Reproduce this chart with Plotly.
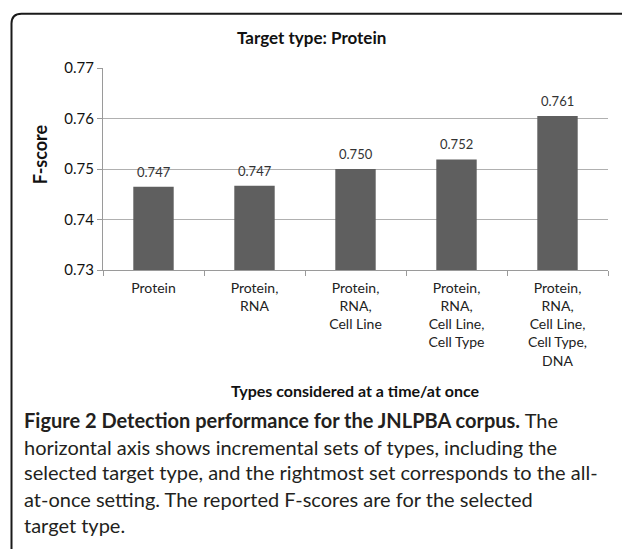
import plotly.graph_objects as go

# ---- data ----
categories = [
    "Protein",
    "Protein,<br>RNA",
    "Protein,<br>RNA,<br>Cell Line",
    "Protein,<br>RNA,<br>Cell Line,<br>Cell Type",
    "Protein,<br>RNA,<br>Cell Line,<br>Cell Type,<br>DNA",
]
fscores = [0.7465, 0.7467, 0.7500, 0.7519, 0.7605]
value_labels = ["0.747", "0.747", "0.750", "0.752", "0.761"]
y_ticks = [0.73, 0.74, 0.75, 0.76, 0.77]
y_tick_labels = ["0.73", "0.74", "0.75", "0.76", "0.77"]

chart_title = "Target type: Protein"
y_title = "F-score"
x_title = "Types considered at a time/at once"
caption_lines = [
    "<b>Figure 2 Detection performance for the JNLPBA corpus.</b> The",
    "horizontal axis shows incremental sets of types, including the",
    "selected target type, and the rightmost set corresponds to the all-",
    "at-once setting. The reported F-scores are for the selected",
    "target type.",
]

# ---- layout geometry (pixels) ----
W, H = 622, 549
L, R, T, B = 103, 608, 67.5, 270  # plot area edges


def px(x):
    return (x - L) / (R - L)


def py(y):
    return (B - y) / (B - T)


CHART_FONT = "Lato, 'Open Sans', sans-serif"
CAP_FONT = "Lato, 'Open Sans', sans-serif"

fig = go.Figure()
fig.add_trace(go.Bar(
    x=categories,
    y=fscores,
    marker=dict(color="#5f5f5f", line=dict(width=0)),
    hoverinfo="x+y",
    showlegend=False,
))

annotations = []
for c, v, lab in zip(categories, fscores, value_labels):
    annotations.append(dict(
        x=c, y=v, xref="x", yref="y", text=lab, showarrow=False,
        yanchor="bottom", yshift=5,
        font=dict(family=CHART_FONT, size=13, color="#333333"),
    ))

annotations.append(dict(
    x=px(311), y=py(37), xref="paper", yref="paper", text="<b>%s</b>" % chart_title,
    showarrow=False, xanchor="center", yanchor="middle",
    font=dict(family=CHART_FONT, size=17, color="#111111"),
))
annotations.append(dict(
    x=px(40), y=py(154), xref="paper", yref="paper", text="<b>%s</b>" % y_title,
    showarrow=False, xanchor="center", yanchor="middle", textangle=-90,
    font=dict(family=CHART_FONT, size=18, color="#111111"),
))
annotations.append(dict(
    x=0.5, y=py(391), xref="paper", yref="paper", text="<b>%s</b>" % x_title,
    showarrow=False, xanchor="center", yanchor="middle",
    font=dict(family=CHART_FONT, size=16, color="#111111"),
))

cap_y = [420, 447, 473, 500, 526]
for line, yy in zip(caption_lines, cap_y):
    annotations.append(dict(
        x=px(22), y=py(yy), xref="paper", yref="paper", text=line,
        showarrow=False, xanchor="left", yanchor="middle", align="left",
        font=dict(family=CAP_FONT, size=20, color="#231f20"),
    ))

# rounded frame (top-left corner), running off right and bottom edges
x0, y0, rad = 11.5, 13, 10
frame_path = (
    f"M {px(x0)},{py(H + 20)} L {px(x0)},{py(y0 + rad)} "
    f"Q {px(x0)},{py(y0)} {px(x0 + rad)},{py(y0)} L {px(W + 20)},{py(y0)}"
)

fig.update_layout(
    width=W, height=H,
    margin=dict(l=L, r=W - R, t=T, b=H - B),
    paper_bgcolor="white", plot_bgcolor="white",
    bargap=0.6,
    annotations=annotations,
    shapes=[dict(type="path", path=frame_path, xref="paper", yref="paper",
                 line=dict(color="#1a1a1a", width=2))],
    xaxis=dict(
        type="category", showline=True, linecolor="#9a9a9a", linewidth=1,
        ticks="outside", tickson="boundaries", ticklen=5, tickcolor="#9a9a9a",
        ticklabelstandoff=5,
        showgrid=False, tickfont=dict(family=CHART_FONT, size=14, color="#222222"),
    ),
    yaxis=dict(
        range=[0.73, 0.77], tickvals=y_ticks, ticktext=y_tick_labels,
        showline=True, linecolor="#9a9a9a", linewidth=1,
        ticks="outside", ticklen=5, tickcolor="#9a9a9a",
        showgrid=True, gridcolor="#b0b0b0", gridwidth=1, zeroline=False,
        tickfont=dict(family=CHART_FONT, size=15, color="#111111"),
    ),
)

fig.write_html(
    "out.html",
    config={"displayModeBar": False},
    post_script="document.body.style.margin='0';document.body.style.overflow='hidden';",
)
